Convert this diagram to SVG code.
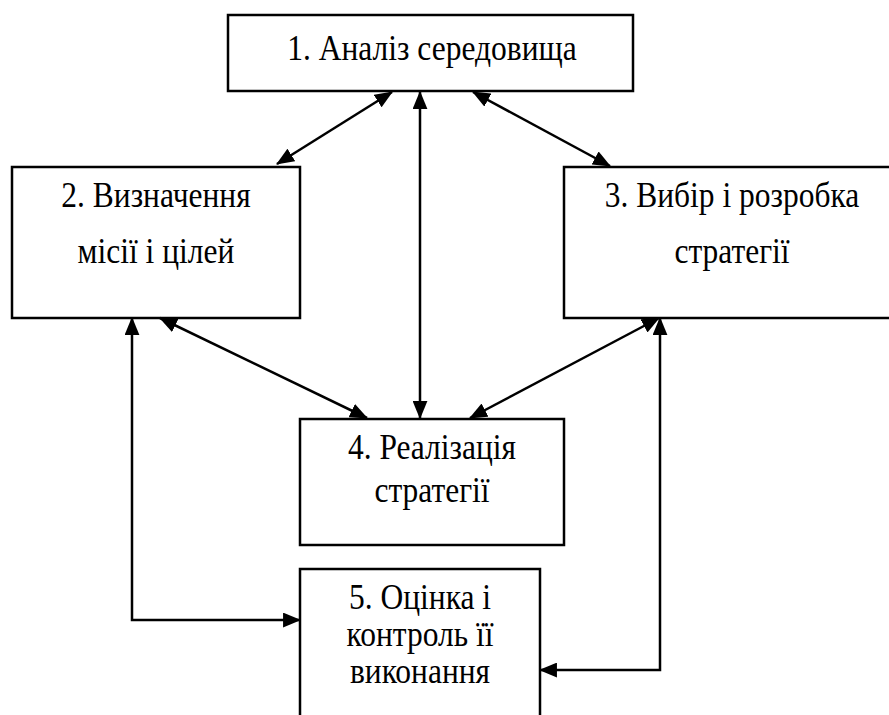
<svg xmlns="http://www.w3.org/2000/svg" width="889" height="715" viewBox="0 0 889 715">
<style>
.box{fill:#fff;stroke:#000;stroke-width:2.5}
.lbl{font-family:"Liberation Serif","Times New Roman",serif;font-size:31.5px;text-anchor:middle;fill:#000}
.con{fill:none;stroke:#000;stroke-width:2.5;marker-start:url(#ah);marker-end:url(#ah)}
</style>
<defs>
<marker id="ah" markerUnits="userSpaceOnUse" markerWidth="18" markerHeight="15" refX="16" refY="7" orient="auto-start-reverse" viewBox="0 0 17 14">
<path d="M0,0 L17,7 L0,14 Z" fill="#000"/>
</marker>
</defs>
<rect width="889" height="715" fill="#fff"/>
<g id="n1"><rect class="box" x="228" y="15" width="405" height="76"/>
<text class="lbl" transform="translate(432,60) scale(1,1.12)">1. Аналіз середовища</text></g>
<g id="n2"><rect class="box" x="12" y="167" width="288" height="151"/>
<text class="lbl" transform="translate(156,207) scale(1,1.12)">2. Визначення</text>
<text class="lbl" transform="translate(156,263) scale(1,1.12)">місії і цілей</text></g>
<g id="n3"><rect class="box" x="564" y="167" width="345" height="151"/>
<text class="lbl" transform="translate(732,207) scale(1,1.12)">3. Вибір і розробка</text>
<text class="lbl" transform="translate(732,263) scale(1,1.12)">стратегії</text></g>
<g id="n4"><rect class="box" x="300" y="419" width="264" height="126"/>
<text class="lbl" transform="translate(432,459) scale(1,1.12)">4. Реалізація</text>
<text class="lbl" transform="translate(432,502) scale(1,1.12)">стратегії</text></g>
<g id="n5"><rect class="box" x="300" y="569" width="240" height="170"/>
<text class="lbl" transform="translate(420,609) scale(1,1.12)">5. Оцінка і</text>
<text class="lbl" transform="translate(420,646) scale(1,1.12)">контроль її</text>
<text class="lbl" transform="translate(420,683) scale(1,1.12)">виконання</text></g>
<g id="connectors">
<line class="con" x1="392" y1="92" x2="277" y2="164"/>
<line class="con" x1="420" y1="92" x2="420" y2="418"/>
<line class="con" x1="473" y1="92" x2="610" y2="166"/>
<line class="con" x1="160" y1="318" x2="367" y2="418"/>
<line class="con" x1="659" y1="318" x2="470" y2="418"/>
<polyline class="con" points="132,318 132,620 300,620"/>
<polyline class="con" points="660,318 660,670 540,670"/>
</g>
</svg>
